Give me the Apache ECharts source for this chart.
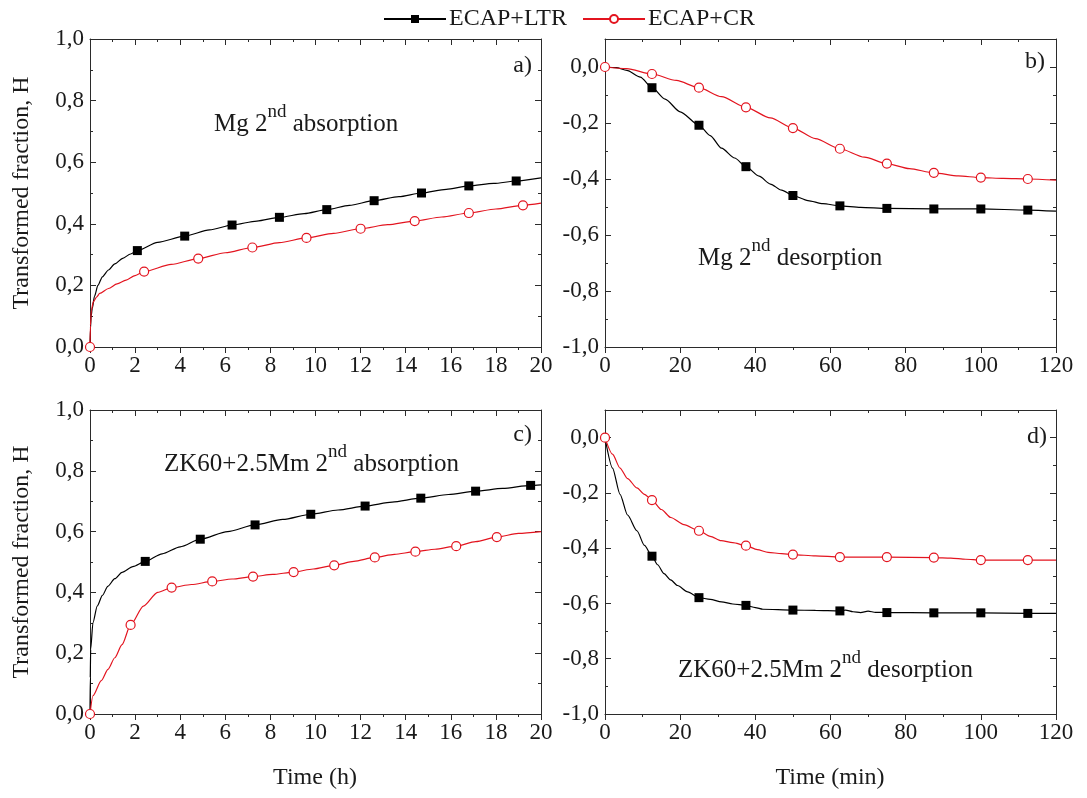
<!DOCTYPE html>
<html>
<head>
<meta charset="utf-8">
<script src="https://cdn.jsdelivr.net/npm/echarts@6/dist/echarts.min.js"></script>
<style>
  html, body { margin: 0; padding: 0; background: #fff; }
  #chart { width: 1087px; height: 798px; }
</style>
</head>
<body>
<div id="chart"></div>
<script>
// series names
var seriesNames = ["ECAP+LTR", "ECAP+CR"];

// a) Mg 2nd absorption, time in h
var aLtr = [[0,0],[0.02,0.06],[0.05,0.1],[0.1,0.125],[0.2,0.165],[0.35,0.2],[0.55,0.228],[0.82,0.25],[1.1,0.27],[1.45,0.288],[1.8,0.302],[2.1,0.313],[3,0.34],[4.2,0.36],[5.3,0.38],[6.3,0.396],[7.4,0.409],[8.4,0.421],[9.5,0.433],[10.5,0.446],[11.5,0.46],[12.6,0.475],[13.7,0.488],[14.7,0.5],[15.8,0.512],[16.8,0.523],[17.9,0.531],[18.9,0.539],[20,0.549]];
var aLtrMarks = [2.1, 4.2, 6.3, 8.4, 10.5, 12.6, 14.7, 16.8, 18.9];
var aCr = [[0,0],[0.02,0.07],[0.06,0.12],[0.15,0.147],[0.3,0.163],[0.43,0.174],[0.82,0.19],[1.2,0.205],[1.6,0.217],[2.0,0.232],[2.4,0.245],[3.6,0.268],[4.8,0.287],[6.0,0.306],[7.2,0.323],[8.4,0.339],[9.6,0.354],[10.8,0.369],[12,0.384],[13.2,0.397],[14.4,0.409],[15.6,0.422],[16.8,0.435],[18,0.448],[19.2,0.46],[20,0.467]];
var aCrMarks = [0, 2.4, 4.8, 7.2, 9.6, 12, 14.4, 16.8, 19.2];

// b) Mg 2nd desorption, time in min
var bLtr = [[0,0],[3,-0.002],[5.8,-0.012],[9.4,-0.036],[12.5,-0.074],[16,-0.115],[20,-0.16],[25,-0.208],[28,-0.245],[31,-0.29],[34.5,-0.325],[37.5,-0.356],[41,-0.39],[44,-0.418],[47,-0.44],[50,-0.459],[54,-0.477],[58,-0.488],[62.5,-0.496],[68,-0.501],[75,-0.505],[87.5,-0.507],[100,-0.507],[112.5,-0.511],[120,-0.515]];
var bLtrMarks = [12.5, 25, 37.5, 50, 62.5, 75, 87.5, 100, 112.5];
var bCr = [[0,0],[5.8,-0.006],[12.5,-0.025],[19,-0.048],[25,-0.074],[31,-0.106],[37.5,-0.144],[44,-0.182],[50,-0.218],[56,-0.256],[62.5,-0.292],[69,-0.322],[75,-0.345],[81,-0.363],[87.5,-0.378],[94,-0.389],[100,-0.395],[106,-0.398],[112.5,-0.4],[120,-0.404]];
var bCrMarks = [0, 12.5, 25, 37.5, 50, 62.5, 75, 87.5, 100, 112.5];

// c) ZK60+2.5Mm 2nd absorption, time in h
var cLtr = [[0,0],[0.01,0.12],[0.03,0.213],[0.13,0.3],[0.32,0.355],[0.55,0.39],[0.79,0.42],[1.1,0.445],[1.42,0.466],[1.9,0.485],[2.45,0.502],[3.2,0.527],[4,0.55],[4.89,0.575],[6.1,0.6],[7.32,0.622],[8.55,0.64],[9.79,0.657],[11,0.671],[12.2,0.684],[13.4,0.697],[14.67,0.71],[15.9,0.722],[17.1,0.733],[18.3,0.742],[19.54,0.752],[20,0.754]];
var cLtrMarks = [2.45, 4.89, 7.32, 9.79, 12.2, 14.67, 17.1, 19.54];
var cCr = [[0,0],[0.13,0.06],[0.5,0.11],[0.8,0.147],[1.1,0.185],[1.42,0.228],[1.8,0.293],[2.37,0.355],[3.0,0.4],[3.62,0.416],[4.5,0.426],[5.42,0.436],[6.3,0.444],[7.23,0.452],[8.1,0.459],[9.03,0.467],[9.9,0.477],[10.83,0.489],[11.7,0.502],[12.63,0.515],[13.5,0.525],[14.43,0.534],[15.3,0.542],[16.24,0.552],[17.1,0.567],[18.04,0.582],[19,0.594],[20,0.6]];
var cCrMarks = [0, 1.8, 3.62, 5.42, 7.23, 9.03, 10.83, 12.63, 14.43, 16.24, 18.04];

// d) ZK60+2.5Mm 2nd desorption, time in min
var dLtr = [[0,0],[2,-0.11],[4,-0.205],[6,-0.28],[8.5,-0.337],[10.5,-0.39],[12.5,-0.429],[14,-0.46],[15.7,-0.492],[17.5,-0.515],[19.3,-0.535],[22,-0.558],[25,-0.579],[28,-0.585],[31,-0.594],[34,-0.602],[37.5,-0.607],[40,-0.615],[42,-0.621],[50,-0.624],[56,-0.625],[62.5,-0.627],[64,-0.624],[66,-0.63],[68,-0.633],[70,-0.628],[72,-0.632],[75,-0.633],[87.5,-0.634],[100,-0.634],[112.5,-0.636],[120,-0.636]];
var dLtrMarks = [12.5, 25, 37.5, 50, 62.5, 75, 87.5, 100, 112.5];
var dCr = [[0,0],[2,-0.06],[4,-0.11],[6,-0.148],[8.5,-0.182],[10.5,-0.205],[12.5,-0.226],[15,-0.26],[17.5,-0.289],[21,-0.315],[25,-0.337],[28,-0.357],[30.9,-0.373],[34,-0.38],[37.5,-0.391],[40.5,-0.405],[43.4,-0.415],[47,-0.42],[50,-0.423],[56,-0.428],[62.5,-0.432],[75,-0.432],[87.5,-0.434],[92,-0.436],[96,-0.44],[100,-0.443],[112.5,-0.443],[120,-0.443]];
var dCrMarks = [0, 12.5, 25, 37.5, 50, 62.5, 75, 87.5, 100, 112.5];

var FONT = "Liberation Serif";
var RED = "#e3141f";
var AXIS = "#2b2b2b";

var grids = [
  { left: 90, top: 39, width: 451, height: 308 },
  { left: 605, top: 39, width: 451, height: 308 },
  { left: 90, top: 410, width: 451, height: 304 },
  { left: 605, top: 410, width: 451, height: 304 }
];
var xRanges = [[0, 20, 2], [0, 120, 20], [0, 20, 2], [0, 120, 20]];
var yRanges = [[0, 1, 0.2], [-1, 0.1, 0.2], [0, 1, 0.2], [-1, 0.1, 0.2]];

function markData(points, marks) {
  return points.map(function (p) {
    if (marks.indexOf(p[0]) >= 0) return { value: p };
    return { value: p, symbol: "none" };
  });
}

function makeX(i, pos) {
  var r = xRanges[i];
  return {
    type: "value", gridIndex: i, position: pos,
    min: r[0], max: r[1], interval: r[2],
    axisLine: { show: true, onZero: false, lineStyle: { color: AXIS, width: 1 } },
    axisTick: { show: true, inside: pos === "top", length: 6, lineStyle: { color: AXIS } },
    minorTick: { show: true, splitNumber: 2, length: 3, lineStyle: { color: AXIS } },
    splitLine: { show: false },
    axisLabel: {
      show: pos === "bottom", margin: 7,
      fontFamily: FONT, fontSize: 23, color: "#1a1a1a"
    }
  };
}

function makeY(i, pos) {
  var r = yRanges[i];
  return {
    type: "value", gridIndex: i, position: pos,
    min: r[0], max: r[1], interval: r[2],
    axisLine: { show: true, onZero: false, lineStyle: { color: AXIS, width: 1 } },
    axisTick: { show: true, inside: true, length: 6, lineStyle: { color: AXIS } },
    minorTick: { show: true, splitNumber: 2, length: 3, lineStyle: { color: AXIS } },
    splitLine: { show: false },
    axisLabel: {
      show: pos === "left", margin: 6, showMaxLabel: r[1] === 1,
      fontFamily: FONT, fontSize: 23, color: "#1a1a1a",
      formatter: function (v) { return v.toFixed(1).replace(".", ","); }
    }
  };
}

var xAxes = [], yAxes = [], series = [];
var panels = [[aLtr, aLtrMarks, aCr, aCrMarks], [bLtr, bLtrMarks, bCr, bCrMarks],
              [cLtr, cLtrMarks, cCr, cCrMarks], [dLtr, dLtrMarks, dCr, dCrMarks]];

for (var i = 0; i < 4; i++) {
  xAxes.push(makeX(i, "bottom"), makeX(i, "top"));
  yAxes.push(makeY(i, "left"), makeY(i, "right"));
  var p = panels[i];
  series.push({
    name: seriesNames[0], type: "line", xAxisIndex: 2 * i, yAxisIndex: 2 * i,
    data: markData(p[0], p[1]),
    smooth: 0.25, smoothMonotone: "x",
    symbol: "rect", symbolSize: 9, showSymbol: true,
    lineStyle: { color: "#000", width: 1.2 },
    itemStyle: { color: "#000" }
  });
  series.push({
    name: seriesNames[1], type: "line", xAxisIndex: 2 * i, yAxisIndex: 2 * i,
    data: markData(p[2], p[3]),
    smooth: 0.25, smoothMonotone: "x",
    symbol: "circle", symbolSize: 9, showSymbol: true,
    lineStyle: { color: RED, width: 1.2 },
    itemStyle: { color: "#fff", borderColor: RED, borderWidth: 1.2 }
  });
}

function label(x, y, txt, align) {
  return {
    type: "text", x: x, y: y,
    style: {
      text: txt, fontFamily: FONT, fontSize: 24, fill: "#1a1a1a",
      align: align || "left", verticalAlign: "middle"
    }
  };
}

function supLabel(x, y, before, after) {
  return {
    type: "text", x: x, y: y,
    style: {
      text: "{n|" + before + "}{s|nd}{n|" + after + "}",
      fontFamily: FONT, fill: "#1a1a1a", verticalAlign: "middle",
      rich: {
        n: { fontFamily: FONT, fontSize: 25, lineHeight: 34, verticalAlign: "bottom", fill: "#1a1a1a" },
        s: { fontFamily: FONT, fontSize: 19, lineHeight: 20, verticalAlign: "top", fill: "#1a1a1a" }
      }
    }
  };
}

var graphics = [
  label(532, 66, "a)", "right"),
  label(1045, 62, "b)", "right"),
  label(532, 435, "c)", "right"),
  label(1047, 437, "d)", "right"),
  supLabel(214, 120, "Mg 2", " absorption"),
  supLabel(698, 254, "Mg 2", " desorption"),
  supLabel(164, 460, "ZK60+2.5Mm 2", " absorption"),
  supLabel(678, 666, "ZK60+2.5Mm 2", " desorption"),
  label(315, 778, "Time (h)", "center"),
  label(830, 778, "Time (min)", "center"),
  {
    type: "text", x: 22, y: 193, rotation: Math.PI / 2,
    style: { text: "Transformed fraction, H", fontFamily: FONT, fontSize: 24, fill: "#1a1a1a", align: "center", verticalAlign: "middle" }
  },
  {
    type: "text", x: 22, y: 562, rotation: Math.PI / 2,
    style: { text: "Transformed fraction, H", fontFamily: FONT, fontSize: 24, fill: "#1a1a1a", align: "center", verticalAlign: "middle" }
  }
];

var myChart = echarts.init(document.getElementById("chart"), null, { renderer: "canvas" });
myChart.setOption({
  animation: false,
  backgroundColor: "#fff",
  legend: {
    data: seriesNames,
    left: 378, top: 2,
    itemWidth: 62, itemHeight: 10, itemGap: 15,
    textStyle: { fontFamily: FONT, fontSize: 24, color: "#1a1a1a", padding: [0, 0, 0, -2] }
  },
  grid: grids,
  xAxis: xAxes,
  yAxis: yAxes,
  series: series,
  graphic: graphics
});
</script>
</body>
</html>
